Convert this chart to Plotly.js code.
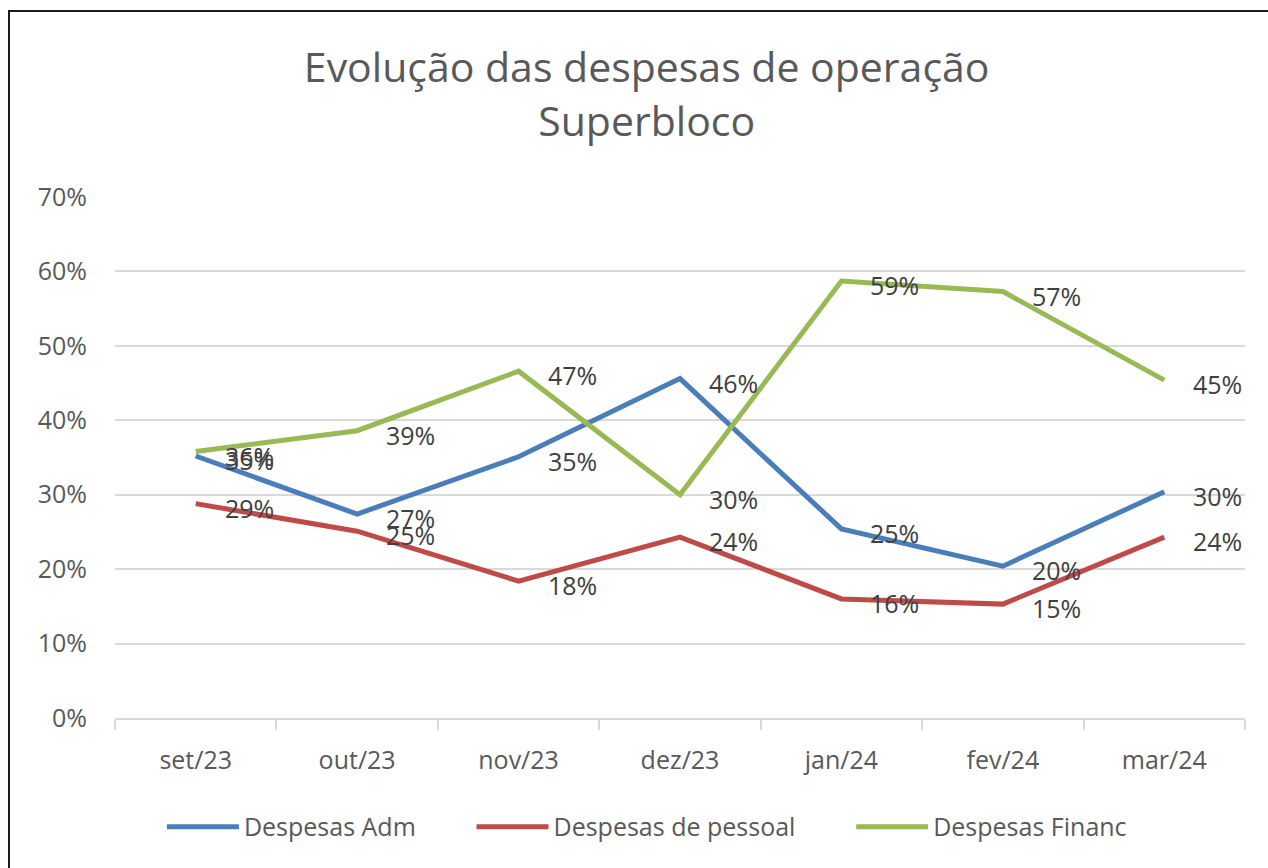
<!DOCTYPE html>
<html>
<head>
<meta charset="utf-8">
<script src="https://cdn.plot.ly/plotly-3.0.1.min.js"></script>
<style>
  html, body { margin: 0; padding: 0; background: #fff; overflow: hidden; }
  #chart { position: absolute; left: 0; top: 0; width: 1268px; height: 868px; }
  #frame { position: absolute; left: 8px; top: 10px; width: 2000px; height: 2000px;
           border-left: 2px solid #1a1a1a; border-top: 2px solid #1a1a1a; pointer-events: none; }
</style>
</head>
<body>
<div id="chart"></div>
<div id="frame"></div>
<script>
const categories = ["set/23", "out/23", "nov/23", "dez/23", "jan/24", "fev/24", "mar/24"];
const despesasAdm = [0.352, 0.274, 0.351, 0.456, 0.254, 0.204, 0.304];
const despesasPessoal = [0.288, 0.251, 0.184, 0.243, 0.160, 0.153, 0.243];
const despesasFinanc = [0.358, 0.386, 0.466, 0.300, 0.587, 0.573, 0.454];
const seriesNames = ["Despesas Adm", "Despesas de pessoal", "Despesas Financ"];
const seriesColors = ["#4a7ebb", "#be4b48", "#98b954"];
const yTickVals = [0, 0.1, 0.2, 0.3, 0.4, 0.5, 0.6, 0.7];

const allSeries = [despesasAdm, despesasPessoal, despesasFinanc];
const font = "'Open Sans', 'Liberation Sans', sans-serif";
const legendIds = ["legend", "legend2", "legend3"];
const legendX = [0.0415, 0.3155, 0.6515];

const traces = allSeries.map((vals, i) => ({
  type: "scatter",
  mode: "lines",
  x: categories,
  y: vals,
  name: seriesNames[i],
  legend: legendIds[i],
  line: { color: seriesColors[i], width: 5 },
  hoverinfo: "x+y+name"
}));

const annotations = [];
allSeries.forEach(vals => {
  vals.forEach((v, j) => {
    annotations.push({
      x: categories[j], y: v, xref: "x", yref: "y",
      text: Math.round(v * 100) + "%",
      showarrow: false, xanchor: "left", yanchor: "middle",
      xshift: 27, yshift: -4,
      font: { family: font, size: 25, color: "#404040" }
    });
  });
});

function legendCfg(x) {
  return {
    orientation: "h",
    x: x, xanchor: "left",
    y: -0.209, yanchor: "middle",
    itemwidth: 72,
    bgcolor: "rgba(0,0,0,0)",
    font: { family: font, size: 25, color: "#595959" }
  };
}

const layout = {
  width: 1268, height: 868,
  paper_bgcolor: "#ffffff", plot_bgcolor: "#ffffff",
  margin: { l: 115, r: 23, t: 197, b: 150 },
  title: {
    text: "Evolução das despesas de operação<br>Superbloco",
    x: 0.51, xanchor: "center", xref: "container",
    y: 0.905, yanchor: "top", yref: "container",
    font: { family: font, size: 41, color: "#595959" }
  },
  xaxis: {
    type: "category",
    range: [-0.5, 6.5],
    showline: true, linecolor: "#d9d9d9", linewidth: 2,
    ticks: "outside", tickson: "boundaries", ticklen: 10, tickcolor: "#d9d9d9", tickwidth: 2,
    showgrid: false, zeroline: false,
    ticklabelstandoff: 19,
    tickfont: { family: font, size: 25, color: "#595959" }
  },
  yaxis: {
    range: [0, 0.7],
    tickvals: yTickVals,
    tickformat: ".0%",
    showgrid: true, gridcolor: "#d9d9d9", gridwidth: 2,
    zeroline: false, showline: false, ticks: "",
    ticklabelstandoff: 27,
    tickfont: { family: font, size: 25, color: "#595959" }
  },
  showlegend: true,
  legend: legendCfg(legendX[0]),
  legend2: legendCfg(legendX[1]),
  legend3: legendCfg(legendX[2]),
  annotations: annotations
};

Plotly.newPlot("chart", traces, layout, { displayModeBar: false, staticPlot: true });
</script>
</body>
</html>
